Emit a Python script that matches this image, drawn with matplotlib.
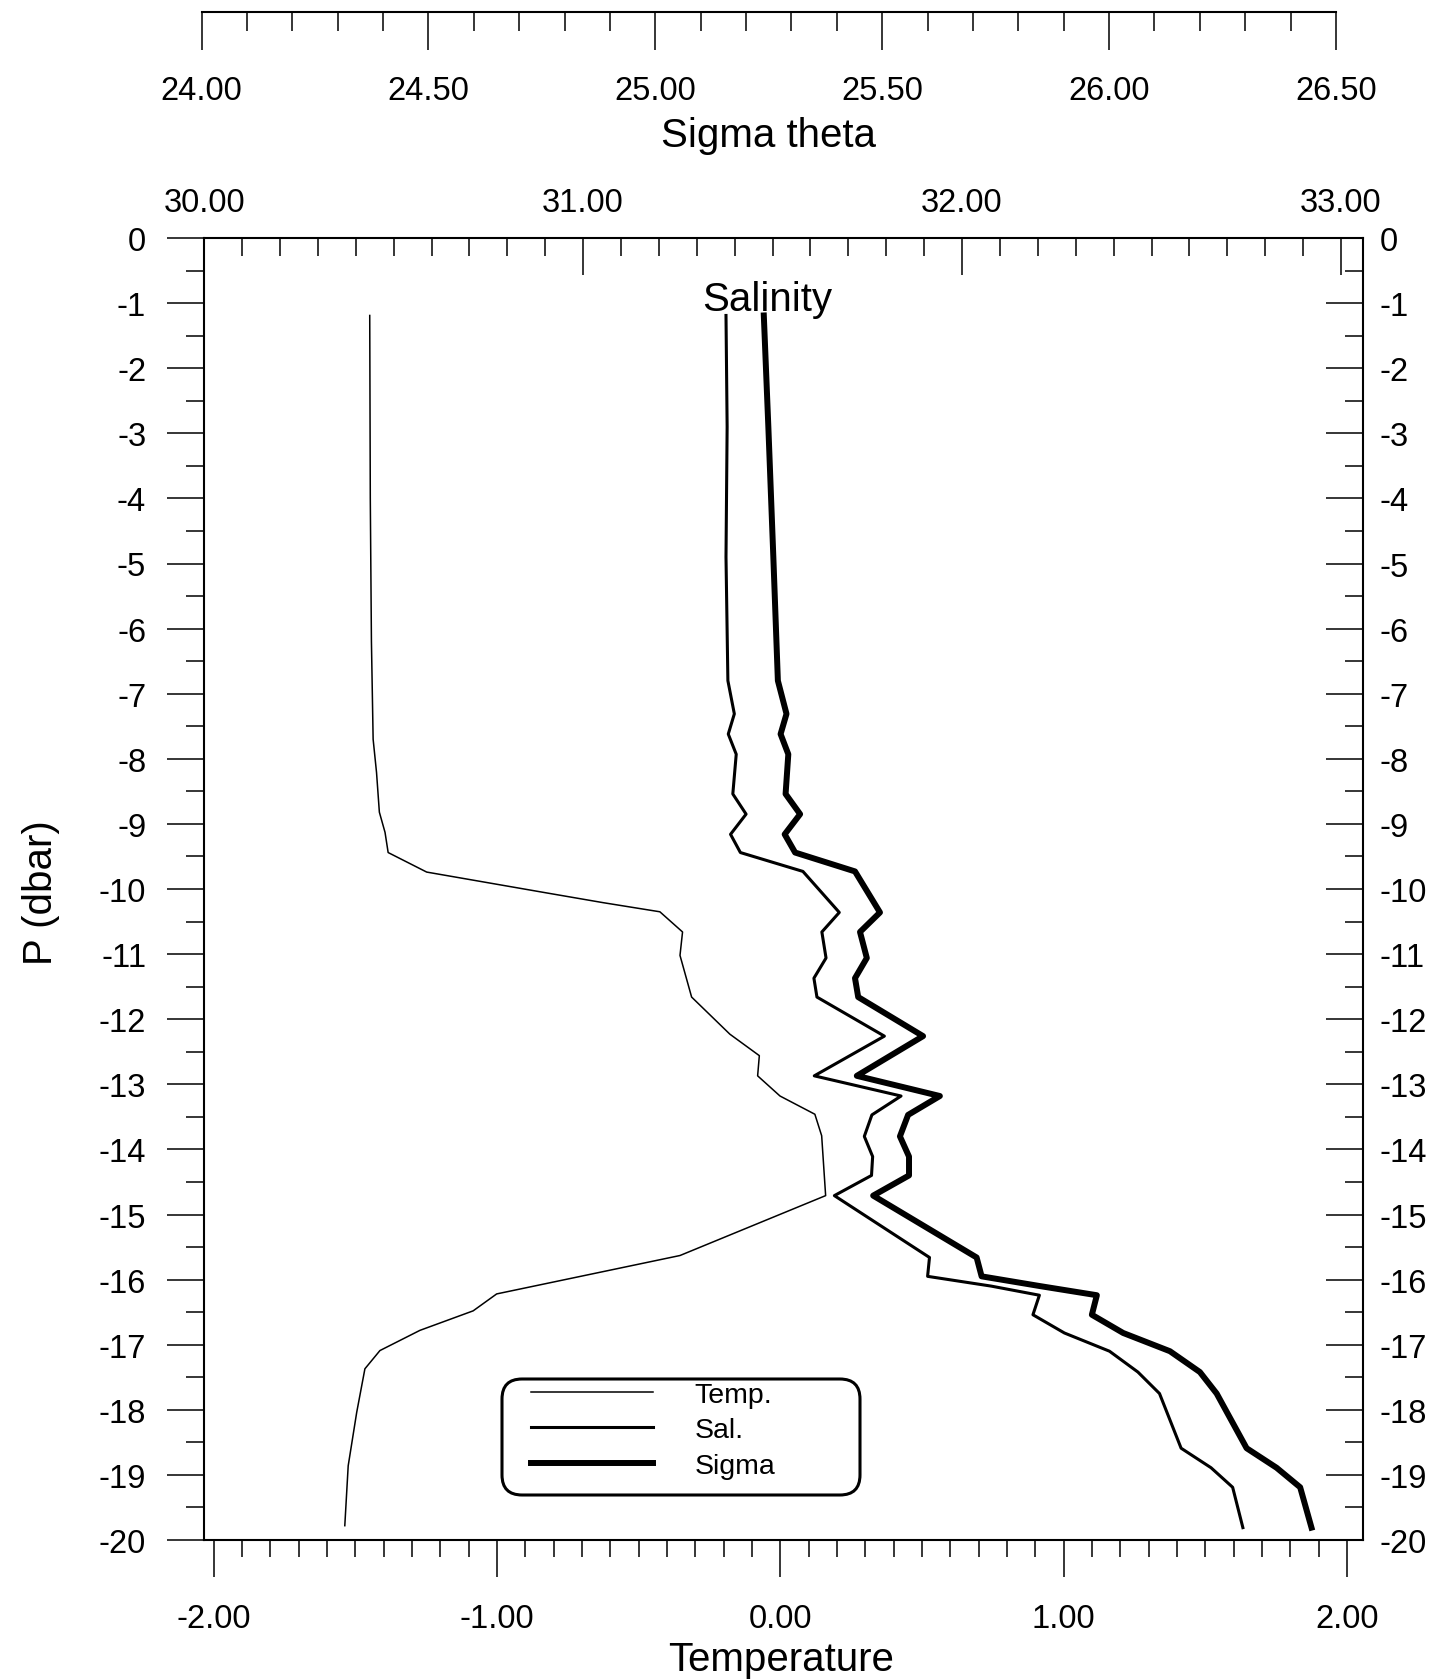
import matplotlib
matplotlib.use("Agg")
import matplotlib.pyplot as plt
from matplotlib.ticker import MultipleLocator, FormatStrFormatter
from matplotlib.patches import FancyBboxPatch

plt.rcParams['font.family'] = ['Liberation Sans', 'DejaVu Sans']
plt.rcParams['axes.unicode_minus'] = False

# ---------------- data ----------------
temp_p = [-1.19, -4.0, -6.2, -7.70, -8.21, -8.82, -9.13, -9.44, -9.74, -10.06, -10.21,
          -10.35, -10.66, -11.02, -11.66, -12.23, -12.56, -12.87, -13.18, -13.46, -13.79,
          -14.71, -15.63, -16.22, -16.48, -16.78, -17.09, -17.37, -18.04, -18.86, -19.78]
temp_T = [-1.449, -1.447, -1.443, -1.437, -1.425, -1.415, -1.395, -1.384, -1.248, -0.825, -0.625,
          -0.425, -0.345, -0.354, -0.313, -0.178, -0.074, -0.080, -0.001, 0.122, 0.146,
          0.160, -0.354, -1.001, -1.084, -1.272, -1.413, -1.466, -1.495, -1.525, -1.537]

ss_p = [-1.19, -2.9, -4.9, -6.8, -7.31, -7.62, -7.93, -8.54, -8.85, -9.16, -9.44, -9.73,
        -10.36, -10.66, -11.06, -11.37, -11.66, -12.26, -12.87, -13.18, -13.47, -13.80,
        -14.11, -14.40, -14.71, -15.66, -15.95, -16.10, -16.24, -16.54, -16.82, -17.10,
        -17.42, -17.75, -18.59, -18.89, -19.19, -19.81]
salinity = [31.377, 31.380, 31.377, 31.382, 31.399, 31.383, 31.404, 31.395, 31.430, 31.389,
            31.415, 31.580, 31.676, 31.630, 31.641, 31.609, 31.617, 31.795, 31.610, 31.839,
            31.762, 31.742, 31.764, 31.761, 31.663, 31.914, 31.909, 32.077, 32.204, 32.187,
            32.270, 32.389, 32.464, 32.521, 32.578, 32.657, 32.714, 32.741]
sigma = [25.239, 25.249, 25.260, 25.270, 25.289, 25.276, 25.293, 25.287, 25.319, 25.285,
         25.308, 25.440, 25.495, 25.451, 25.466, 25.440, 25.447, 25.590, 25.444, 25.627,
         25.557, 25.539, 25.559, 25.559, 25.480, 25.708, 25.719, 25.848, 25.973, 25.962,
         26.031, 26.134, 26.200, 26.237, 26.303, 26.369, 26.421, 26.446]

legend_labels = ['Temp.', 'Sal.', 'Sigma']

# ---------------- layout ----------------
W, H = 1453, 1681
fig = plt.figure(figsize=(W / 100, H / 100), dpi=100)


def fx(px):
    return px / W


def fy(py):
    return 1 - py / H


L, R, T, B = 204, 1363, 239, 1541
TICK_FS = 23.5
LAB_FS = 29
LW_AX = 1.5
TW = 1.1

ax = fig.add_axes([fx(L), fy(B), (R - L) / W, (B - T) / H])
ax.set_xlim(-2.0339, 2.0565)
ax.set_ylim(-20, 0)
for s in ax.spines.values():
    s.set_linewidth(LW_AX)

l_t, = ax.plot(temp_T, temp_p, color='black', lw=1.1)

# bottom temperature axis
ax.xaxis.set_major_locator(MultipleLocator(1))
ax.xaxis.set_minor_locator(MultipleLocator(0.1))
ax.xaxis.set_major_formatter(FormatStrFormatter('%.2f'))
ax.tick_params(axis='x', which='major', direction='out', length=26.6, width=TW,
               pad=19, labelsize=TICK_FS)
ax.tick_params(axis='x', which='minor', direction='out', length=12.2, width=TW)
# left pressure axis
ax.yaxis.set_major_locator(MultipleLocator(1))
ax.yaxis.set_minor_locator(MultipleLocator(0.5))
ax.yaxis.set_major_formatter(FormatStrFormatter('%d'))
ax.tick_params(axis='y', which='major', direction='out', length=26.6, width=TW,
               pad=15, labelsize=TICK_FS)
ax.tick_params(axis='y', which='minor', direction='out', length=13, width=TW)

ax.set_xlabel('Temperature', fontsize=LAB_FS, va='center')
ax.xaxis.set_label_coords(fx(781), fy(1660.5), transform=fig.transFigure)
ax.set_ylabel('P (dbar)', fontsize=LAB_FS, va='center')
ax.yaxis.set_label_coords(fx(41), fy(893), transform=fig.transFigure)

# salinity axis (top of box)
ax_s = ax.twiny()
ax_s.set_xlim(29.9995, 33.058)
for s in ax_s.spines.values():
    s.set_visible(False)
l_s, = ax_s.plot(salinity, ss_p, color='black', lw=2.2)
ax_s.xaxis.set_major_locator(MultipleLocator(1))
ax_s.xaxis.set_minor_locator(MultipleLocator(0.1))
ax_s.xaxis.set_major_formatter(FormatStrFormatter('%.2f'))
ax_s.tick_params(axis='x', which='major', direction='in', length=26.6, width=TW,
                 pad=14.6, labelsize=TICK_FS)
ax_s.tick_params(axis='x', which='minor', direction='in', length=13, width=TW)

# sigma overlay (drawn in the same box)
ax_g = ax.twiny()
ax_g.set_xlim(24.0053, 26.5595)
ax_g.xaxis.set_visible(False)
for s in ax_g.spines.values():
    s.set_visible(False)
l_g, = ax_g.plot(sigma, ss_p, color='black', lw=4.3)

# right pressure axis
ax_r = ax.twinx()
ax_r.set_ylim(-20, 0)
for s in ax_r.spines.values():
    s.set_visible(False)
ax_r.yaxis.set_major_locator(MultipleLocator(1))
ax_r.yaxis.set_minor_locator(MultipleLocator(0.5))
ax_r.yaxis.set_major_formatter(FormatStrFormatter('%d'))
ax_r.tick_params(axis='y', which='major', direction='in', length=26.6, width=TW,
                 pad=12, labelsize=TICK_FS)
ax_r.tick_params(axis='y', which='minor', direction='in', length=13, width=TW)

# sigma theta axis on top
ax_t = fig.add_axes([fx(201.6), fy(13.3), (1336 - 201.6) / W, 0.0001])
ax_t.set_xlim(24, 26.5)
ax_t.patch.set_visible(False)
for k in ['left', 'right', 'top']:
    ax_t.spines[k].set_visible(False)
ax_t.spines['bottom'].set_linewidth(LW_AX)
ax_t.yaxis.set_visible(False)
ax_t.xaxis.set_major_locator(MultipleLocator(0.5))
ax_t.xaxis.set_minor_locator(MultipleLocator(0.1))
ax_t.xaxis.set_major_formatter(FormatStrFormatter('%.2f'))
ax_t.tick_params(axis='x', which='major', direction='out', length=27.4, width=TW,
                 pad=18, labelsize=TICK_FS)
ax_t.tick_params(axis='x', which='minor', direction='out', length=13.7, width=TW)
ax_t.set_xlabel('Sigma theta', fontsize=LAB_FS, va='center')
ax_t.xaxis.set_label_coords(fx(768.8), fy(136), transform=fig.transFigure)

# "Salinity" caption inside the box
fig.text(fx(767), fy(300), 'Salinity', ha='center', va='center', fontsize=LAB_FS)

# legend
fig.legend([l_t, l_s, l_g], legend_labels, loc='upper left',
           bbox_to_anchor=(fx(531), fy(1383)), frameon=False, fontsize=20.5,
           handlelength=4.3, handletextpad=1.45, labelspacing=0.33,
           borderpad=0, borderaxespad=0)
frame = FancyBboxPatch((fx(502), fy(1496)), (860 - 502) / W, (1496 - 1380) / H,
                       boxstyle='round,pad=0,rounding_size=0.0138',
                       mutation_aspect=W / H, transform=fig.transFigure,
                       facecolor='none', edgecolor='black', linewidth=2.2)
fig.add_artist(frame)

fig.savefig('out.png', dpi=100)
